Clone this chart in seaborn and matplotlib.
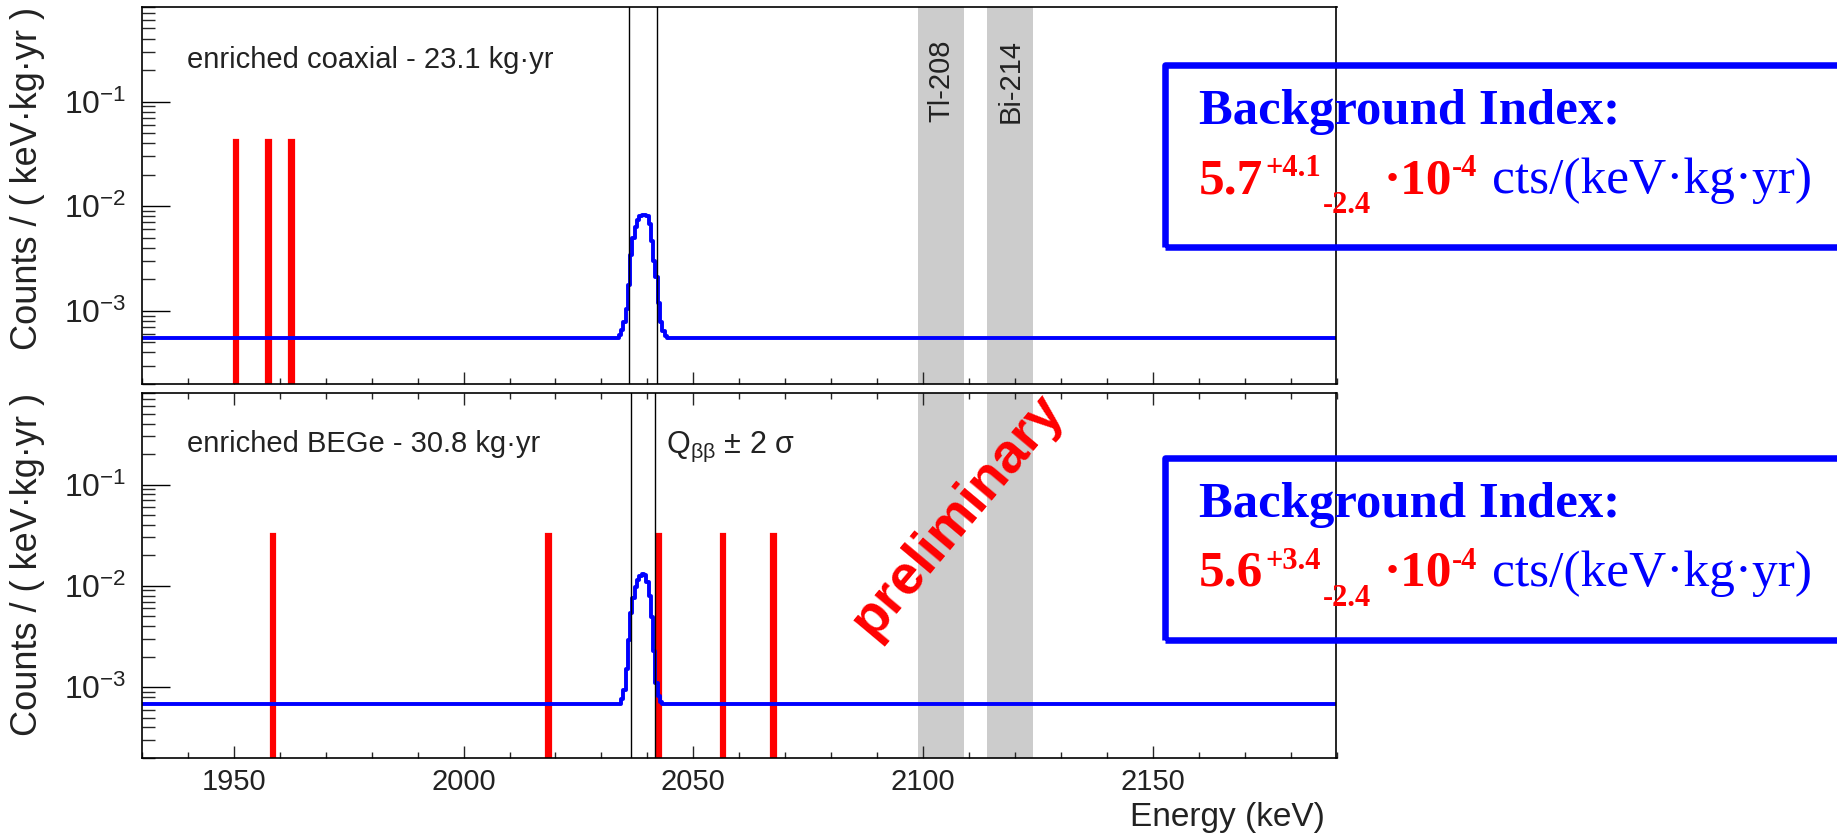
import numpy as np
import pandas as pd
import matplotlib
matplotlib.use("Agg")
import matplotlib.pyplot as plt
from matplotlib.patches import Rectangle
from matplotlib.ticker import MultipleLocator, LogLocator, LogFormatterSciNotation, NullFormatter
import seaborn as sns

# exposures (kg*yr) -> one event in a 1 keV bin gives 1/exposure
coax_exposure = 23.1
bege_exposure = 30.8

# event energies (keV)
coax_events = [1950.5, 1957.4, 1962.6]
bege_events = [1958.6, 2018.6, 2042.6, 2056.6, 2067.6]

# fitted model (keV, cts/(keV kg yr))
coax_curve_e = [1930, 2033.5, 2034.0, 2034.5, 2035.0, 2035.5, 2036.0, 2036.5, 2037.0,
                2037.5, 2038.0, 2038.5, 2039.0, 2039.5, 2040.0, 2040.5, 2041.0,
                2041.5, 2042.0, 2042.5, 2043.0, 2043.5, 2044.0, 2044.5, 2190]
coax_curve_y = [5.5e-4, 5.5e-4, 5.9e-4, 6.6e-4, 7.9e-4, 1.05e-3, 1.75e-3, 3.4e-3, 5.0e-3,
                6.3e-3, 7.4e-3, 8.1e-3, 8.3e-3, 8.3e-3, 8.0e-3, 6.8e-3, 4.7e-3,
                3.0e-3, 2.1e-3, 1.2e-3, 7.8e-4, 6.4e-4, 5.7e-4, 5.5e-4, 5.5e-4]
bege_curve_e = [1930, 2033.5, 2034.0, 2034.5, 2035.0, 2035.5, 2036.0, 2036.5, 2037.0,
                2037.5, 2038.0, 2038.5, 2039.0, 2039.5, 2040.0, 2040.5, 2041.0,
                2041.5, 2042.0, 2042.5, 2043.0, 2043.5, 2190]
bege_curve_y = [6.8e-4, 6.8e-4, 6.9e-4, 7.6e-4, 9.3e-4, 1.5e-3, 2.9e-3, 5.4e-3, 7.6e-3,
                9.8e-3, 1.15e-2, 1.25e-2, 1.30e-2, 1.27e-2, 1.10e-2, 8.0e-3, 4.9e-3,
                2.3e-3, 1.1e-3, 8.2e-4, 7.2e-4, 6.8e-4, 6.8e-4]

# Qbb +- 2 sigma windows
coax_window = [2036.0, 2042.2]
bege_window = [2036.5, 2041.7]

# gamma lines excluded
band_labels = ["Tl-208", "Bi-214"]
band_lo = [2099, 2114]
band_hi = [2109, 2124]

# background index boxes
bi_value = ["5.7", "5.6"]
bi_up = ["+4.1", "+3.4"]
bi_down = ["-2.4", "-2.4"]

W, H = 1837, 840

sns.set_theme(style="white")
plt.rcParams["font.family"] = ["Liberation Sans", "DejaVu Sans"]
plt.rcParams["xtick.labelsize"] = 21
plt.rcParams["ytick.labelsize"] = 23
plt.rcParams["axes.edgecolor"] = "black"
plt.rcParams["axes.linewidth"] = 1.2

fig = plt.figure(figsize=(W / 100, H / 100), dpi=100)
ax1 = fig.add_axes([142 / W, 1 - 384 / H, (1336.5 - 142) / W, (384 - 7) / H])
ax2 = fig.add_axes([142 / W, 1 - 758 / H, (1336.5 - 142) / W, (758 - 393) / H])

panels = [
    (ax1, coax_events, coax_exposure, coax_curve_e, coax_curve_y, coax_window,
     "enriched coaxial - 23.1 kg\u00b7yr"),
    (ax2, bege_events, bege_exposure, bege_curve_e, bege_curve_y, bege_window,
     "enriched BEGe - 30.8 kg\u00b7yr"),
]

for ax, events, expo, ce, cy, win, label in panels:
    for lo, hi in zip(band_lo, band_hi):
        ax.axvspan(lo, hi, color="#cccccc", lw=0, zorder=0)
    centers = np.floor(events) + 0.5
    ax.bar(centers, [1 / expo] * len(events), width=1.0, color="red",
           edgecolor="red", linewidth=1.6, zorder=1)
    df = pd.DataFrame({"E": ce, "y": cy})
    sns.lineplot(data=df, x="E", y="y", ax=ax, color="blue", lw=2.8,
                 drawstyle="steps-mid", zorder=2)
    for w in win:
        ax.axvline(w, color="black", lw=1.0, zorder=3)
    ax.set_yscale("log")
    ax.set_xlim(1930, 2190)
    ax.set_ylim(2e-4, 0.8)
    ax.xaxis.set_major_locator(MultipleLocator(50))
    ax.xaxis.set_minor_locator(MultipleLocator(10))
    ax.yaxis.set_major_locator(LogLocator(base=10))
    ax.yaxis.set_minor_locator(LogLocator(base=10, subs=np.arange(2, 10)))
    ax.yaxis.set_major_formatter(LogFormatterSciNotation())
    ax.yaxis.set_minor_formatter(NullFormatter())
    ax.tick_params(axis="y", which="major", direction="in", length=20, width=1.0,
                   left=True, right=False, pad=11, colors="black", labelcolor="#222222")
    ax.tick_params(axis="y", which="minor", direction="in", length=9.4, width=1.0,
                   left=True, right=False)
    ax.tick_params(axis="x", which="major", direction="in", length=8.6, width=1.0, pad=7,
                   labelcolor="#222222")
    ax.tick_params(axis="x", which="minor", direction="in", length=4.3, width=1.0)
    for s in ax.spines.values():
        s.set_color("black")
        s.set_linewidth(1.2)
    ax.set_ylabel("Counts / ( keV\u00b7kg\u00b7yr )", loc="top", fontsize=26, color="#222222")
    ax.yaxis.set_label_coords(-0.081, 1.0)
    ax.text(0.0377, 0.838, label, transform=ax.transAxes,
            fontsize=21, va="baseline", ha="left", color="#222222")

ax1.tick_params(axis="x", which="both", bottom=True, top=False, labelbottom=False)
ax1.set_xlabel("")
ax2.tick_params(axis="x", which="both", bottom=True, top=True, labelbottom=True)
ax2.set_xlabel("Energy (keV)", loc="right", fontsize=24, color="#222222")
ax2.xaxis.set_label_coords(0.99, -0.12)

for lab, lo, hi in zip(band_labels, band_lo, band_hi):
    ax1.text((lo + hi) / 2, 0.915, lab, transform=ax1.get_xaxis_transform(),
             rotation=90, ha="center", va="top", fontsize=21, color="#222222")

ax2.text(0.439, 0.836, "Q$_{\\mathregular{\u03b2\u03b2}}$ \u00b1 2 \u03c3",
         transform=ax2.transAxes, fontsize=22, va="baseline", ha="left", color="#222222")

fig.text(958 / W, 1 - 516 / H, "preliminary", rotation=50, rotation_mode="anchor",
         ha="center", va="center", fontsize=40, fontweight="bold", color="red")

serif = ["Liberation Serif", "DejaVu Serif"]


def px(x, y):
    return x / W, 1 - y / H


for i in range(2):
    dy = 393 * i
    rect = Rectangle(px(1165, 246.5 + dy), 1.2, (246.5 - 65) / H,
                     transform=fig.transFigure, fill=False, edgecolor="blue",
                     lw=4.7, joinstyle="round")
    fig.add_artist(rect)
    fig.text(*px(1199, 124 + dy), "Background Index:", family=serif, fontsize=36.5,
             fontweight="bold", color="blue", va="baseline")
    fig.text(*px(1199, 193 + dy), bi_value[i], family=serif, fontsize=37,
             fontweight="bold", color="red", va="baseline")
    fig.text(*px(1265, 176 + dy), bi_up[i], family=serif, fontsize=22,
             fontweight="bold", color="red", va="baseline")
    fig.text(*px(1323, 213 + dy), bi_down[i], family=serif, fontsize=22,
             fontweight="bold", color="red", va="baseline")
    fig.text(*px(1384, 193 + dy), "\u00b710", family=serif, fontsize=37,
             fontweight="bold", color="red", va="baseline")
    fig.text(*px(1452, 176 + dy), "-4", family=serif, fontsize=22,
             fontweight="bold", color="red", va="baseline")
    fig.text(*px(1492, 193 + dy), "cts/(keV\u00b7kg\u00b7yr)", family=serif, fontsize=37,
             color="blue", va="baseline")

fig.savefig("out.png", dpi=100)
